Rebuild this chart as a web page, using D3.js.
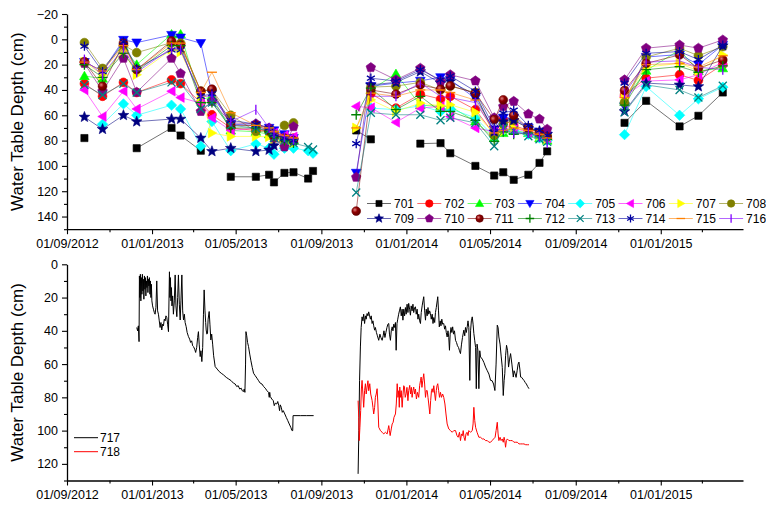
<!DOCTYPE html>
<html><head><meta charset="utf-8">
<script src="https://cdn.jsdelivr.net/npm/d3@7"></script>
<style>
html,body{margin:0;padding:0;background:#fff;}
svg{display:block;font-family:Arial,"Liberation Sans",Helvetica,sans-serif;}
</style></head><body>
<svg id="chart" width="766" height="508"></svg>
<script>
// ---------------- DATA ----------------
const sampleDates = [
 "2012-09-26","2012-10-22","2012-11-21","2012-12-10","2013-01-29","2013-02-11","2013-03-12","2013-03-28",
 "2013-04-24","2013-05-30","2013-06-18","2013-06-25","2013-07-10","2013-07-23","2013-08-13","2013-08-20",
 "2013-10-21","2013-11-11","2013-12-17","2014-01-21","2014-02-19","2014-03-05","2014-04-10","2014-05-07",
 "2014-05-20","2014-06-04","2014-06-25","2014-07-11","2014-07-22",
 "2014-11-10","2014-12-11","2015-01-28","2015-02-24","2015-03-31"];
const sampleCampaign = [1,1,1,1,1,1,1,1,1,1,1,1,1,1,1,1, 2,2,2,2,2,2,2,2,2,2,2,2,2, 3,3,3,3,3];

const wellNames = ["701","702","703","704","705","706","707","708","709","710","711","712","713","714","715","716"];
const w701 = [78,null,null,86,70,76,88,null,108.6,108.6,107,113,105.5,105,110,104, 72,79,null,82.4,82,90,100,107.6,105,111,107,97.6,88.5, 66,48.6,68.8,60.4,42];
const w702 = [35,45,34,42,32,35,50,59.6,70,72,72,74,76,78,null,null, null,43,54.3,43.3,47.2,45,55.6,75,63.5,68,72,75,78, 44,30.7,28,32.5,20];
const w703 = [29,31,6,20,-4,-4,48,45,72,73,75,76,79,80,null,null, null,40,27.3,52,53,53,64.8,78,74,72,74,78,80, 48,24.7,8.4,25,22.8];
const w704 = [18,25,0.5,2.6,-3.4,-1.3,3,43,67,68,70,72,75,78,null,null, 105.5,37,34.6,32.8,30,32,46.7,71.4,62,62,70,73,76, 53,14,12,20,4.5];
const w705 = [null,67,51,60,52,55,84.5,65,88,82.6,86,90.8,86,86,88,90, null,54.3,55.6,52.5,57,55,62,77,72,72,75,78,80, 75.3,37.3,60,47,37.8];
const w706 = [40,61,41,55,41,46,50.4,62,72,70,72,74,76,77,null,null, 53,54,65.6,54.3,53,61,70,73,68,70,73.5,75,78, 45,33,32,28,18];
const w707 = [18,28,9,28,8,10,45,74,76.7,76.7,77,80,82,82,null,null, 70,47.8,57,50.4,52.5,51.7,57.7,75,72.7,70,72,76,79, 47,22,19,25,12.3];
const w708 = [2.6,23,4.5,10.5,2.6,3,41,40,60,72.7,73,75,68,66,null,null, null,37.8,37,34,40,37,42,76,67,64,70,74,76, 49.9,14,7,12.9,5.8];
const w709 = [61.4,71,60,65,63,63,78,88.5,86,88.5,87.4,84,78,80,null,null, null,36,34,25.5,34.6,33.3,44,73,65,64,70,72.7,75, 57,34.6,36,37.3,5];
const w710 = [19,41,15,41.8,15,27,57,49,66,66.7,70,78,85,69,null,null, 109,22.3,32,22.8,33.3,28,32.8,62,53,49,59,63,71, 32,7,4.5,7,0.5];
const w711 = [17.6,37,3,24,1.3,4.5,41,39.4,68,68,72,76,78,80,null,null, 135.7,40,43.3,36,39.4,36.7,42.5,63.5,47.8,60,70,74,77, 40.4,19,12.3,22.8,16.3];
const w712 = [20,30,11,25,5,5,50,50,70,70,73,77,80,82,null,null, 59.6,38.6,55.6,45,57,57,64,80.6,73,75,74,77,79, 52,24,21.5,26,21];
const w713 = [36,44,35,42,34,35,55,50,68,70,72,78,80,82,85,87, 121,58,59.6,59.6,64,62,66,84.5,70,72,76.6,79,81, 57.7,36,40,46,36.7];
const w714 = [5.4,25.5,2,23,8.4,8.4,45,43,64,67,70,75,78,80,null,null, 82.4,30.7,33,24,32,29,41,70,58.3,56,68,72,76, 34.6,11,9.7,16,4.5];
const w715 = [18,25,5,24,3,3,42,26,58,68,70,73,76,78,null,null, 70,42.5,45,40,40,42,48,74,72,70,72,75,78, 46,20,19,22,13];
const w716 = [16,28,7,26,7,8,45,45,65,55.7,70,74,77,79,null,null, null,45,45,34.6,45,46,50,72,71,74,74,77,82, 43,18,17,22,24];
const wellValues = [w701,w702,w703,w704,w705,w706,w707,w708,w709,w710,w711,w712,w713,w714,w715,w716];

// logger series: [days since loggerStart, depth cm]; null value = gap
const loggerStart = "2012-09-01";
const loggerNames = ["717","718"];
const logger717 = [
 [100.1,38],[101.3,40],[102.4,37],[103.4,46.5],[103.9,7],[104.6,20],[105.3,6],[106.0,22],[106.7,8],[107.5,18],[108.2,6],[108.9,16],
 [109.6,9],[110.3,21],[111.1,7],[111.8,15],[112.5,8],[113.2,19],[113.9,10],[114.7,14],[115.4,7],[116.1,17],[116.8,9],[117.5,13],
 [118.2,8],[119.0,18],[119.7,10],[120.4,20],[121.1,12],[121.8,22],[122.8,25],[124.0,27],[125.3,29],[126.4,30],[127.6,26],[128.8,10],
 [130.0,28],[131.2,30],[132.4,34],[133.6,38],[134.8,35],[136.0,39.5],[137.2,36],[138.4,37],[139.6,33],[140.8,34],[142.0,31],[143.2,32],
 [144.4,36],[145.6,40.5],[147.0,4.5],[147.7,20],[148.4,8],[149.2,22],[149.9,14],[150.6,25],[151.6,19],[152.7,30],[154.0,22],[155.2,6.4],
 [156.3,25],[157.6,31.5],[158.8,20],[159.9,6.4],[161.2,24],[162.4,33.5],[163.5,22],[164.8,6.4],[166.0,28],[167.2,33.5],[168.4,30],[169.5,35],
 [171.0,37.5],[172.4,41],[174.3,43.5],[176.0,45],[177.4,47],[178.9,46],[180.3,49],[181.5,49.5],[183.2,51],[184.6,53],[186.1,50],[187.5,44],
 [188.6,40.5],[189.7,48],[191.1,55.5],[192.2,52],[193.5,58.5],[194.7,50],[195.8,30],[196.8,15.4],[198.0,28],[199.0,35],[199.7,39.5],[200.7,42],
 [201.6,41.5],[202.5,33],[204.0,28.4],[205.1,36],[206.4,45.5],[207.6,42],[209.0,48],[210.4,55],[212.6,61.5],[215.5,63],[218.4,64.5],[221.3,65.5],
 [224.6,66.5],[228.5,68],[232.1,69],[235.6,70],[238.9,71.5],[241.4,72],[243.5,73.5],[245.7,73],[247.8,75],[250.0,74.5],[251.4,76],[253.3,76.5],
 [254.3,75],[255.3,77],[256.2,60],[256.8,40.5],[257.9,43],[259.1,47],[260.5,49.5],[262.2,54],[263.9,58],[265.8,62],[267.7,65.5],[270.1,67],
 [272.6,68.5],[274.9,70],[277.3,71.5],[279.8,72],[282.1,73.5],[284.5,74.5],[286.9,76],[289.2,77],[290.2,80],[290.9,77],[291.7,79.5],[293.8,81],
 [296.0,82],[297.4,85],[298.8,83.5],[301.0,84],[302.4,82.5],[303.9,85],[305.0,88],[306.0,84.5],[307.5,86],[308.9,89],[310.3,88],[312.5,90],
 [314.6,92],[316.8,94],[318.9,96],[321.1,98],[322.8,100],[323.9,100],[324.4,91],[334.8,91],[343.4,91],[353.9,91],
 [380,null],
 [417.7,126],[418.8,100],[419.8,70],[421.0,49.7],[422.1,38],[423.4,31.6],[424.6,34],[425.7,30],[427.0,35.6],[428.2,31],[429.3,33],[430.6,29.6],
 [431.8,31],[432.9,28.6],[434.2,31],[435.4,33],[436.5,31],[437.8,35.6],[439.0,34],[440.1,37],[441.4,39.6],[442.5,38],[444.0,41],[445.4,43],
 [447.3,45.7],[449.0,42],[450.4,44],[452.2,45.7],[453.7,43],[454.8,40],[456.2,44],[457.6,41],[459.1,38],[460.5,36],[461.7,35.6],[462.7,42],
 [464.1,45.7],[465.3,40],[466.6,37.6],[467.7,40],[468.9,36],[470.2,38],[471.3,35],[472.3,51.7],[473.5,35.6],[474.6,33],[475.9,30],[477.0,28],
 [478.4,25.6],[479.6,31],[480.9,27],[482.0,33.6],[483.2,27],[484.4,31],[485.6,26],[486.7,30],[488.0,24],[489.2,29],[490.3,23.5],[491.6,27],
 [492.8,30.6],[493.9,25],[495.2,28],[496.4,24],[497.5,29],[498.8,26],[500.0,25.6],[501.1,30],[502.4,27],[503.6,33],[504.7,30],[506.0,34],
 [507.2,35.6],[508.3,29],[509.6,25],[510.8,22],[511.9,19.5],[513.2,28],[514.4,33.6],[515.5,27],[516.8,31],[518.0,26],[519.1,30],[520.4,28],
 [521.5,29.6],[522.7,33],[524.0,30],[525.2,35.6],[526.3,32],[527.6,35],[528.7,29],[529.9,26],[531.2,22],[532.0,19.5],[533.1,28],[534.2,37.6],
 [535.5,34],[536.6,37],[537.8,33],[539.0,36],[540.6,35.6],[541.9,39],[543.1,37],[544.2,41],[545.5,43.7],[546.7,40],[547.8,44],[548.8,51.7],
 [549.8,42],[551.0,38],[552.2,41],[553.4,37.6],[554.6,42],[556.0,40],[557.5,45.7],[558.9,47],[560.3,49],[561.8,50],[563.2,52],[564.6,53.7],
 [566.1,48],[567.5,44],[569.4,39.6],[570.7,43],[571.8,38],[573.0,41],[574.3,37.6],[575.4,34],[576.6,38],[578.0,69.8],[579.1,40],[580.2,34],
 [581.5,31.6],[582.7,36],[583.8,41.6],[585.1,46],[586.3,50],[587.3,74.8],[588.4,48],[589.6,51.7],[591.0,74.8],[592.3,52],[593.4,55.7],[595.9,57],
 [598.2,59],[600.6,61.8],[603.1,64],[605.4,66],[607.8,69.8],[610.0,70],[612.1,72],[614.0,75.9],[615.7,60],[617.4,36.6],[618.6,38],[619.7,43.7],
 [621.4,48],[623.1,55.7],[624.6,62],[626.0,78.9],[627.2,70],[628.2,65.8],[629.3,55],[630.7,48.7],[632.2,52],[633.6,61.8],[635.1,57],[636.5,53.7],
 [638.4,60],[640.4,67.8],[641.5,64],[643.0,65.8],[644.4,68],[645.9,64],[647.3,60],[648.5,58.8],[649.8,63],[650.9,67.8],[652.4,68],[654.1,69],
 [655.7,69.8],[657.4,71],[659.2,72],[661.0,73.5],[662.9,74.8]];
const logger718 = [
 [417.7,82],[418.6,92],[419.3,106],[420.3,98],[421.4,88],[422.4,75],[423.4,69.8],[424.6,78],[425.7,86],[427.0,76],[428.2,71.8],[429.3,78],
 [430.6,73.8],[431.8,70],[432.9,76],[434.4,71.8],[435.8,78],[437.8,81.9],[439.0,86],[440.1,90],[441.4,86],[442.5,80],[443.7,78],[445.0,74.8],
 [446.1,84],[447.3,98],[448.6,99],[449.7,100],[452.2,101],[454.5,102],[456.9,101],[459.4,102],[461.7,97],[462.7,100],[463.7,103],[465.3,99],
 [466.6,96],[468.0,95],[469.2,92],[471.3,90],[472.5,84],[473.8,71.8],[474.9,80],[476.1,76],[476.8,86],[477.5,73.8],[478.4,80],[479.6,76],
 [480.9,86],[482.0,79],[483.2,73],[484.2,73.8],[485.3,80],[486.6,77.9],[487.8,74],[489.2,82],[490.3,76],[491.8,72.8],[493.0,78],[494.2,74],
 [495.2,80],[496.4,76],[497.5,73.8],[498.8,78],[500.0,75],[501.4,81],[502.9,77],[504.7,80],[506.0,73],[507.2,70],[508.2,67.8],[509.3,74],
 [510.5,70],[511.9,65.8],[513.2,72],[514.4,80],[515.5,76],[516.8,75.9],[518.0,80],[519.1,84],[520.6,90],[521.8,82],[523.0,76],[524.0,74.8],
 [525.2,77],[526.3,73],[527.6,78],[528.7,81.9],[529.9,76],[530.9,73],[532.0,71.8],[533.3,76],[534.5,80],[535.9,77],[537.3,80],[539.0,78],
 [540.6,80],[542.3,84],[543.8,90],[545.5,96],[547.8,99],[550.3,100],[552.7,101],[555.0,100],[557.5,100],[559.6,103],[561.3,104],[563.2,101],
 [564.6,106],[566.1,102],[567.5,103],[568.5,100],[569.7,104],[571.1,106],[572.5,102],[574.0,101],[575.4,103],[576.6,100],[579.0,101],[581.5,100],
 [582.7,96],[583.8,86],[585.1,94],[586.3,98],[588.4,101],[591.0,104],[593.4,104],[595.9,105],[598.2,105],[600.6,106],[603.1,106],[605.4,107],
 [607.8,107],[610.0,106],[612.1,105],[614.3,104],[615.7,100],[617.4,95],[618.6,102],[619.7,106],[621.4,104],[622.9,106],[624.6,105],[626.0,107],
 [627.2,104],[628.2,106],[629.3,110],[630.5,106],[631.8,105],[634.1,106],[636.5,106],[639.0,106],[641.3,107],[643.7,107],[646.2,107],[648.5,108],
 [650.9,108],[653.4,108],[655.7,108],[658.2,108.5],[660.6,108.5],[662.9,108.5]];

const xMajorTicks = ["2012-09-01","2013-01-01","2013-05-01","2013-09-01","2014-01-01","2014-05-01","2014-09-01","2015-01-01"];
const xMinorTicks = ["2012-11-01","2013-03-01","2013-07-01","2013-11-01","2014-03-01","2014-07-01","2014-11-01","2015-03-01"];
const xDomain = ["2012-09-01","2015-04-29"];
const topYTicks = [-20,0,20,40,60,80,100,120,140];
const topYMinor = [-10,10,30,50,70,90,110,130,150];
const botYTicks = [0,20,40,60,80,100,120];
const botYMinor = [10,30,50,70,90,110,130];
const yTitle = "Water Table Depth (cm)";

// ---------------- STYLE ----------------
const seriesStyle = [
 {c:"#000000",m:"square"},{c:"#ff0000",m:"circle"},{c:"#00ff00",m:"triUp"},{c:"#0000ff",m:"triDown"},
 {c:"#00ffff",m:"diamond"},{c:"#ff00ff",m:"triLeft"},{c:"#ffff00",m:"triRight"},{c:"#808000",m:"circle"},
 {c:"#000080",m:"star"},{c:"#800080",m:"pentagon"},{c:"#800000",m:"sphere"},{c:"#008000",m:"plus"},
 {c:"#008080",m:"times"},{c:"#0000a0",m:"asterisk"},{c:"#ff8000",m:"hbar"},{c:"#8000ff",m:"vbar"}];
const loggerColors = ["#000000","#ff0000"];

const parse = d3.utcParse("%Y-%m-%d");
const fmt = d3.utcFormat("%d/%m/%Y");
const svg = d3.select("#chart");
const FONT = 12.5;

const x = d3.scaleUtc().domain(xDomain.map(parse)).range([67, 743]);
const yTop = d3.scaleLinear().domain([-20,150]).range([14,229.2]);
const yBot = d3.scaleLinear().domain([0,130]).range([264.3,480.5]);

const defs = svg.append("defs");
const grad = defs.append("radialGradient").attr("id","sph").attr("cx","35%").attr("cy","35%").attr("r","65%");
grad.append("stop").attr("offset","0%").attr("stop-color","#e08080");
grad.append("stop").attr("offset","45%").attr("stop-color","#900000");
grad.append("stop").attr("offset","100%").attr("stop-color","#600000");

function poly(pts){return "M"+pts.map(p=>p[0].toFixed(2)+","+p[1].toFixed(2)).join("L")+"Z";}
function regular(n,R,a0){return d3.range(n).map(i=>{const a=a0+i*2*Math.PI/n;return [R*Math.cos(a),R*Math.sin(a)];});}
function starPts(R,ri){return d3.range(10).map(i=>{const a=-Math.PI/2+i*Math.PI/5;const rr=i%2?ri:R;return [rr*Math.cos(a),rr*Math.sin(a)];});}
function markerPath(kind,k){
  switch(kind){
    case "square": {const s=3.6*k;return `M${-s},${-s}H${s}V${s}H${-s}Z`;}
    case "circle": case "sphere": {const r=4.4*k;return `M${r},0A${r},${r} 0 1,1 ${-r},0A${r},${r} 0 1,1 ${r},0Z`;}
    case "triUp": return poly(regular(3,5.6*k,-Math.PI/2).map(p=>[p[0],p[1]+0.8*k]));
    case "triDown": return poly(regular(3,5.6*k,Math.PI/2).map(p=>[p[0],p[1]-0.8*k]));
    case "triLeft": return poly(regular(3,5.6*k,Math.PI).map(p=>[p[0]+0.8*k,p[1]]));
    case "triRight": return poly(regular(3,5.6*k,0).map(p=>[p[0]-0.8*k,p[1]]));
    case "diamond": return poly(regular(4,5.2*k,-Math.PI/2));
    case "pentagon": return poly(regular(5,5*k,-Math.PI/2));
    case "star": return poly(starPts(5.6*k,2.4*k));
    case "plus": {const s=5*k;return `M${-s},0H${s}M0,${-s}V${s}`;}
    case "times": {const s=4*k;return `M${-s},${-s}L${s},${s}M${-s},${s}L${s},${-s}`;}
    case "asterisk": {const s=4.6*k,a=s*0.866,b=s*0.5;return `M0,${-s}V${s}M${-a},${-b}L${a},${b}M${-a},${b}L${a},${-b}`;}
    case "hbar": {const s=5*k;return `M${-s},0H${s}`;}
    case "vbar": {const s=5*k;return `M0,${-s}V${s}`;}
  }
}
const strokeKinds = new Set(["plus","times","asterisk","hbar","vbar"]);
function drawMarker(g,st,k){
  const p = g.append("path").attr("d",markerPath(st.m,k));
  if(strokeKinds.has(st.m)) p.attr("fill","none").attr("stroke",st.c).attr("stroke-width",1.3);
  else if(st.m==="sphere") p.attr("fill","url(#sph)").attr("stroke","#700000").attr("stroke-width",0.6);
  else p.attr("fill",st.c).attr("stroke",st.c).attr("stroke-width",0.6);
  return p;
}

// ---------------- AXES ----------------
function drawAxes(y, yTicks, yMinor, axisY, yMidTop){
  const gx = svg.append("g").attr("transform",`translate(0,${axisY})`);
  gx.call(d3.axisBottom(x).tickValues(xMajorTicks.map(parse)).tickFormat(fmt).tickSizeInner(5).tickSizeOuter(0).tickPadding(5));
  const gxm = svg.append("g").attr("transform",`translate(0,${axisY})`);
  gxm.call(d3.axisBottom(x).tickValues(xMinorTicks.map(parse)).tickFormat("").tickSizeInner(3).tickSizeOuter(0));
  gxm.select(".domain").remove();
  const gy = svg.append("g").attr("transform","translate(67,0)");
  gy.call(d3.axisLeft(y).tickValues(yTicks).tickFormat(d3.format("d")).tickSizeInner(5).tickSizeOuter(0).tickPadding(4));
  const gym = svg.append("g").attr("transform","translate(67,0)");
  gym.call(d3.axisLeft(y).tickValues(yMinor).tickFormat("").tickSizeInner(3).tickSizeOuter(0));
  gym.select(".domain").remove();
  [gx,gxm,gy,gym].forEach(g=>{
    g.selectAll(".domain").attr("stroke","#000").attr("stroke-width",1.3);
    g.selectAll(".tick line").attr("stroke","#000").attr("stroke-width",1.1);
    g.selectAll("text").attr("fill","#000").style("font-size",FONT+"px").style("font-family","Arial, 'Liberation Sans', sans-serif");
  });
  const r = y.range();
  svg.append("text").attr("transform",`translate(23,${(r[0]+r[1])/2}) rotate(-90)`)
    .attr("text-anchor","middle").style("font-size","17px").attr("fill","#000").text(yTitle);
}
drawAxes(yTop, topYTicks, topYMinor, yTop(150));
drawAxes(yBot, botYTicks, botYMinor, yBot(130));

// ---------------- TOP: manual samples ----------------
const dates = sampleDates.map(parse);
const lineTop = d3.line().defined(d=>d.v!=null).x(d=>x(d.d)).y(d=>yTop(d.v));
wellValues.forEach((vals,si)=>{
  const st = seriesStyle[si];
  const pts = [];
  vals.forEach((v,i)=>{
    if(i>0 && sampleCampaign[i]!==sampleCampaign[i-1]) pts.push({d:null,v:null});
    pts.push({d:dates[i],v});
  });
  const g = svg.append("g");
  g.append("path").attr("d",lineTop(pts)).attr("fill","none").attr("stroke",st.c)
    .attr("stroke-opacity",0.55).attr("stroke-width",1);
  pts.filter(p=>p.v!=null).forEach(p=>{
    drawMarker(g,st,1).attr("transform",`translate(${x(p.d)},${yTop(p.v)})`);
  });
});

// top legend
wellNames.forEach((name,i)=>{
  const row=Math.floor(i/8), col=i%8;
  const lx = 367 + col*50.3, ly = 203.5 + row*15;
  const st = seriesStyle[i];
  const g = svg.append("g");
  g.append("line").attr("x1",lx).attr("x2",lx+24).attr("y1",ly).attr("y2",ly)
    .attr("stroke",st.c).attr("stroke-opacity",0.6).attr("stroke-width",1);
  drawMarker(g,st,0.85).attr("transform",`translate(${lx+12},${ly})`);
  g.append("text").attr("x",lx+27).attr("y",ly).attr("dy","0.35em").style("font-size","12px").attr("fill","#000").text(name);
});

// ---------------- BOTTOM: loggers ----------------
const t0 = parse(loggerStart).getTime();
const lineBot = d3.line().defined(d=>d[1]!=null).x(d=>x(new Date(t0+d[0]*86400000))).y(d=>yBot(d[1]));
[logger717, logger718].forEach((ser,i)=>{
  svg.append("path").attr("d",lineBot(ser)).attr("fill","none").attr("stroke",loggerColors[i])
    .attr("stroke-width",1).attr("stroke-linejoin","round");
});
loggerNames.forEach((name,i)=>{
  const ly = 437.7 + i*14;
  svg.append("line").attr("x1",74).attr("x2",98).attr("y1",ly).attr("y2",ly).attr("stroke",loggerColors[i]).attr("stroke-width",1);
  svg.append("text").attr("x",100).attr("y",ly).attr("dy","0.35em").style("font-size","12px").attr("fill","#000").text(name);
});
</script>
</body></html>
